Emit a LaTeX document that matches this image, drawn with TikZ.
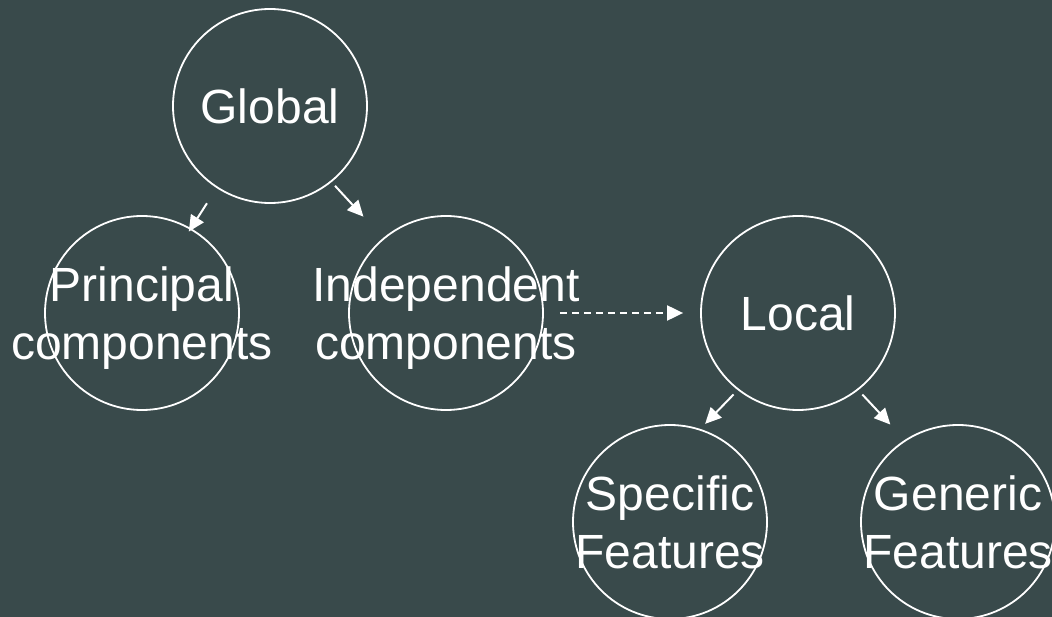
\documentclass[tikz,border=0pt]{standalone}
\usepackage{fontspec}
\setmainfont{Liberation Sans}
\usetikzlibrary{positioning, arrows.meta}
\definecolor{slate}{RGB}{57,74,75}
\tikzset{
  >={Triangle[length=16pt,width=15pt]},
  on grid,
  idea/.style={circle, draw=white, line width=1.8pt, minimum size=194pt, inner sep=0pt},
  lbl/.style={text=white, align=center, text depth=0pt, font=\fontsize{48}{58}\selectfont},
  link/.style={->, white, line width=2pt},
}

\begin{document}
\begin{tikzpicture}[x=1pt, y=1pt]
      \fill[slate] (0,0) rectangle (1052,-617);
      \useasboundingbox (0,0) rectangle (1052,-617);

      \node[idea, label={[lbl]center:Global}] (glob) at (270,-106) {};
      \node[idea, label={[lbl]center:{Principal\\components}}, below left=207pt and 128pt of glob] (princ) {};
      \node[idea, label={[lbl]center:{Independent\\components}}, right=304pt of princ] (indep) {};
      \node[idea, label={[lbl]center:Local}, right=352pt of indep] (loc) {};
      \node[idea, label={[lbl]center:{Specific\\Features}}, below left=209pt and 128pt of loc] (spec) {};
      \node[idea, label={[lbl]center:{Generic\\Features}}, below right=209pt and 160pt of loc] (gen) {};

      \path[link] (glob.237) edge[shorten <=18pt, shorten >=-4pt] (princ.60)
            (glob.-51) edge[shorten <=5pt, shorten >=29pt] (indep.130)
            (indep.east) edge[dash pattern=on 7pt off 5pt, shorten <=16pt, shorten >=17pt] (loc.west)
            (loc.232) edge[shorten <=6pt, shorten >=7pt] (spec.72)
            (loc.-52) edge[shorten <=6pt, shorten >=21pt] (gen.123);
    \end{tikzpicture}
\end{document}
